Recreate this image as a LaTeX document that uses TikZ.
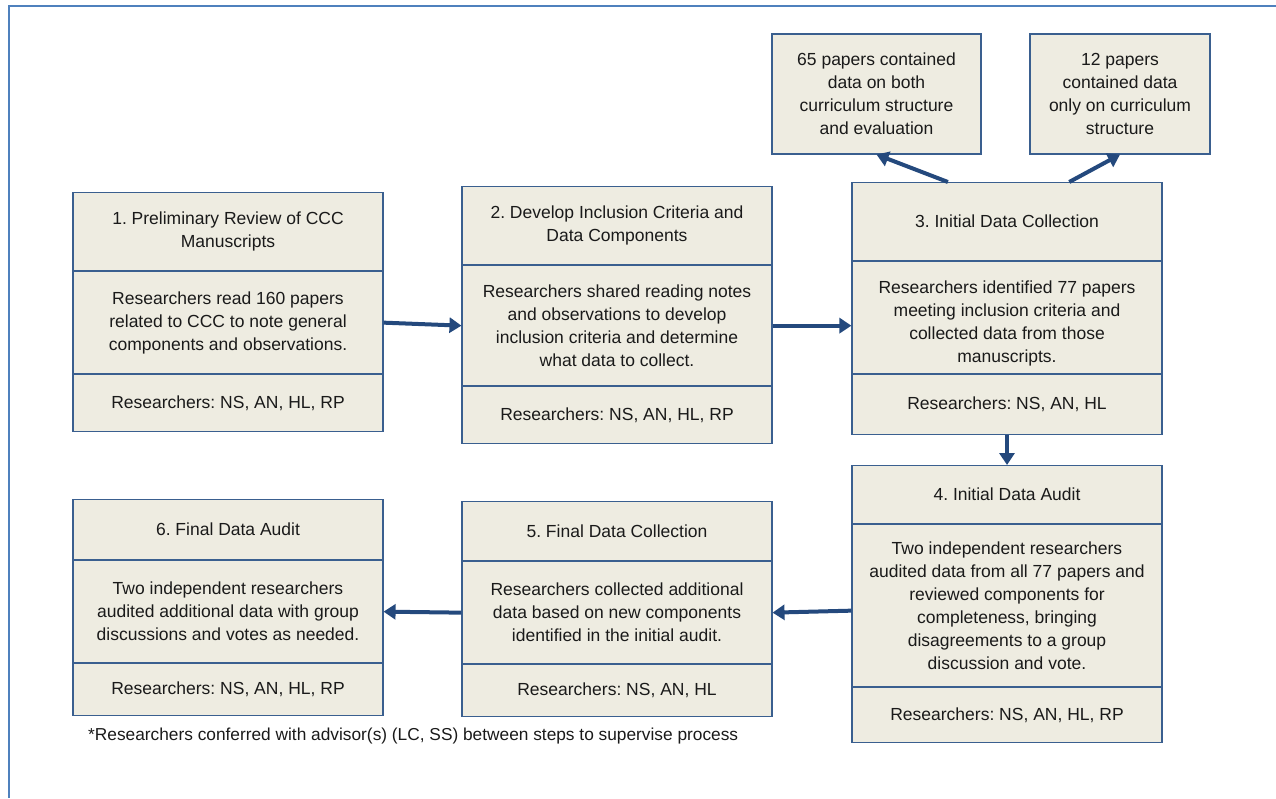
\documentclass[tikz,border=0pt]{standalone}
\usepackage{fontspec}
\setmainfont{Liberation Sans}
\usetikzlibrary{arrows.meta,calc}
\frenchspacing
\definecolor{boxfill}{HTML}{EEECE1}
\definecolor{boxline}{HTML}{3A5F8F}
\definecolor{arrowc}{HTML}{24497D}
\definecolor{framec}{HTML}{4F81BD}
\definecolor{txt}{HTML}{1A1A1A}
\tikzset{
  sec/.style={draw=boxline, fill=boxfill, line width=1.1pt, minimum width=310pt, inner sep=0pt,
    align=center, text=txt, font=\fontsize{17.5}{23}\selectfont, anchor=north},
  sidebox/.style={draw=boxline, fill=boxfill, line width=1.1pt, inner sep=0pt,
    align=center, text=txt, font=\fontsize{17.5}{23}\selectfont},
  flow/.style={draw=arrowc, line width=4pt, -{Triangle[length=12pt,width=15pt]}},
  note/.style={text=txt, font=\fontsize{17.3}{20}\selectfont, anchor=west, inner sep=0pt}
}
\begin{document}
\begin{tikzpicture}[x=1pt,y=-1pt]
\useasboundingbox (0,0) rectangle (1276,798);
\draw[framec, line width=2pt] (9,798) -- (9,6) -- (1276,6);

% Box 1
\node[sec, minimum height=78pt] (b1a) at (228,192) {1. Preliminary Review of CCC\\Manuscripts};
\node[sec, minimum height=102pt] (b1b) at (b1a.south) {Researchers read 160 papers\\related to CCC to note general\\components and observations.};
\node[sec, minimum height=57pt] (b1c) at (b1b.south) {Researchers: NS, AN, HL, RP};

% Box 2
\node[sec, minimum height=78pt] (b2a) at (617,186) {2. Develop Inclusion Criteria and\\Data Components};
\node[sec, minimum height=120pt] (b2b) at (b2a.south) {Researchers shared reading notes\\and observations to develop\\inclusion criteria and determine\\what data to collect.};
\node[sec, minimum height=57pt] (b2c) at (b2b.south) {Researchers: NS, AN, HL, RP};

% Box 3
\node[sec, minimum height=78pt] (b3a) at (1007,182) {3. Initial Data Collection};
\node[sec, minimum height=112pt] (b3b) at (b3a.south) {\rule{0pt}{24pt}Researchers identified 77 papers\\meeting inclusion criteria and\\collected data from those\\manuscripts.};
\node[sec, minimum height=60pt] (b3c) at (b3b.south) {Researchers: NS, AN, HL};

% Box 4
\node[sec, minimum height=58pt] (b4a) at (1007,465) {4. Initial Data Audit};
\node[sec, minimum height=162pt] (b4b) at (b4a.south) {Two independent researchers\\audited data from all 77 papers and\\reviewed components for\\completeness, bringing\\disagreements to a group\\discussion and vote.};
\node[sec, minimum height=55pt] (b4c) at (b4b.south) {Researchers: NS, AN, HL, RP};

% Box 5
\node[sec, minimum height=59pt] (b5a) at (617,501) {5. Final Data Collection};
\node[sec, minimum height=102pt] (b5b) at (b5a.south) {Researchers collected additional\\data based on new components\\identified in the initial audit.};
\node[sec, minimum height=52pt] (b5c) at (b5b.south) {Researchers: NS, AN, HL};

% Box 6
\node[sec, minimum height=60pt] (b6a) at (228,499) {6. Final Data Audit};
\node[sec, minimum height=102pt] (b6b) at (b6a.south) {Two independent researchers\\audited additional data with group\\discussions and votes as needed.};
\node[sec, minimum height=52pt] (b6c) at (b6b.south) {Researchers: NS, AN, HL, RP};

% Side boxes
\node[sidebox, minimum width=209pt, minimum height=120pt] (tl) at (876.5,94) {65 papers contained\\data on both\\curriculum structure\\and evaluation};
\node[sidebox, minimum width=180pt, minimum height=120pt] (tr) at (1120,94) {12 papers\\contained data\\only on curriculum\\structure};

% Footnote
\node[note] (fn) at (88,736) {*Researchers conferred with advisor(s) (LC, SS) between steps to supervise process};

% Connectors
\draw[flow] (b1b.east) -- (b2b.west);
\draw[flow] (b2b.east) -- (b2b.east -| b3b.west);
\draw[flow] (b3c.south) -- (b4a.north);
\draw[flow] ($(b4b.west)+(0,5)$) -- (b5b.east);
\draw[flow] (b5b.west) -- (b6b.east);
\draw[flow] ($(b3a.north west)!0.31!(b3a.north east)$) -- (tl.south);
\draw[flow] ($(b3a.north west)!0.70!(b3a.north east)$) -- (tr.south);
\end{tikzpicture}
\end{document}
